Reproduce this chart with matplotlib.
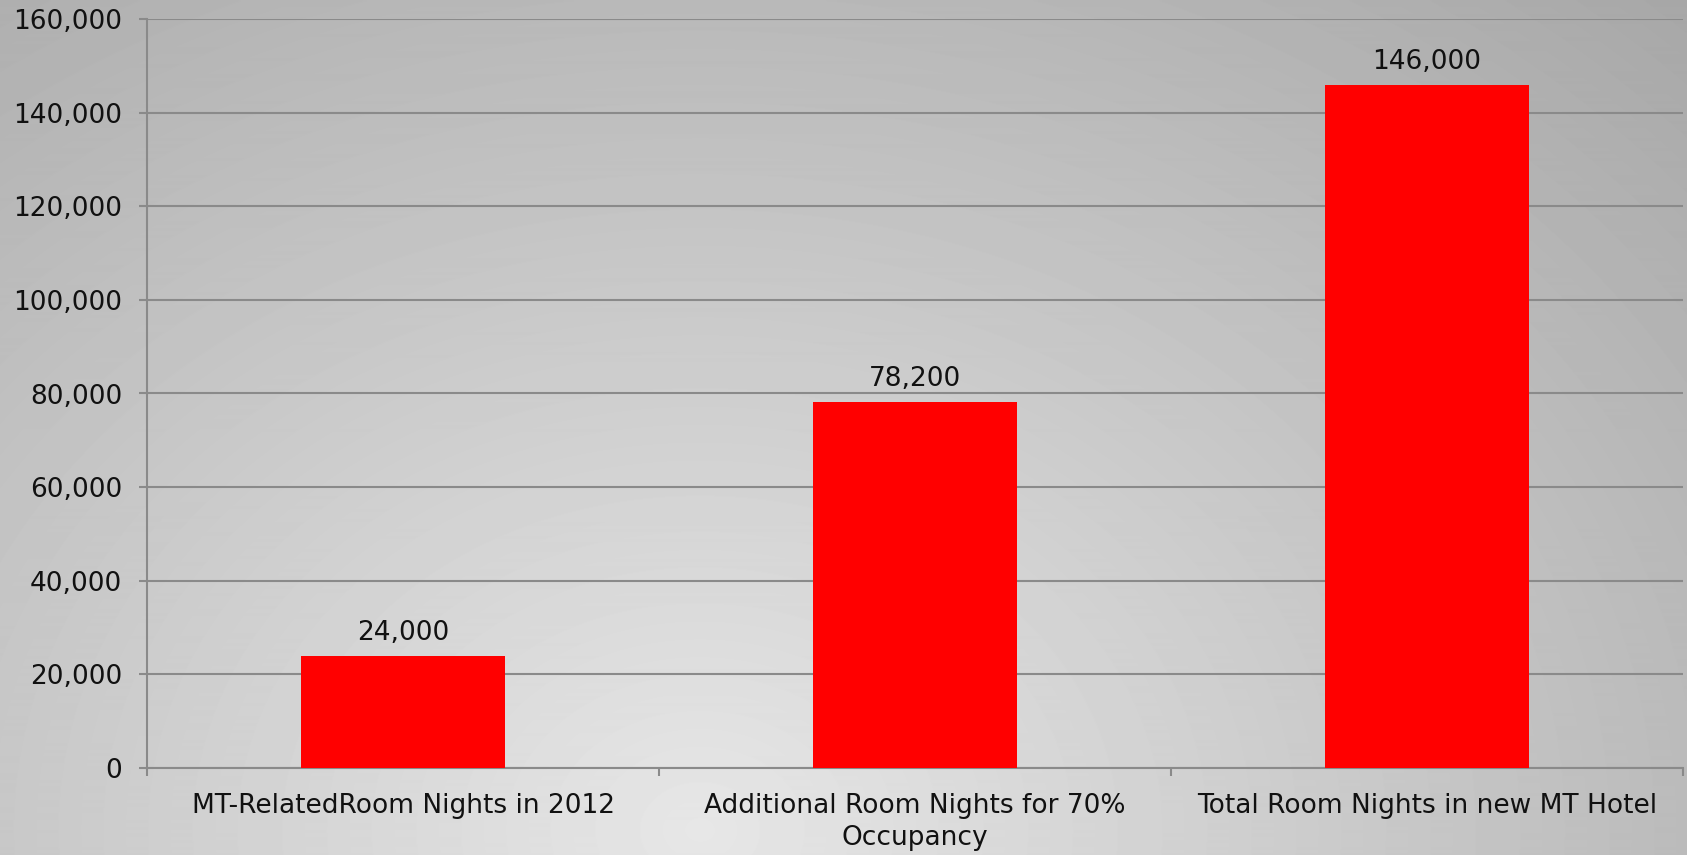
import numpy as np
import matplotlib
matplotlib.use("Agg")
import matplotlib.pyplot as plt
from matplotlib.ticker import FuncFormatter, FixedLocator

# data
categories = ["MT-RelatedRoom Nights in 2012",
              "Additional Room Nights for 70%\nOccupancy",
              "Total Room Nights in new MT Hotel"]
values = [24000, 78200, 146000]
y_ticks = np.arange(0, 160001, 20000)

plt.rcParams['font.family'] = ['DejaVu Sans']

W, H = 1687, 855
fig = plt.figure(figsize=(W / 100, H / 100), dpi=100)

# radial grey background, lighter towards the lower middle-left
bg = fig.add_axes([0, 0, 1, 1], zorder=-10)
yy, xx = np.mgrid[0:H, 0:W]
cx, cy = 700, 830
r = np.sqrt(((xx - cx) / 1.25) ** 2 + (yy - cy) ** 2)
r = r / r.max()
shade = 0.905 - 0.25 * r
bg.imshow(shade, cmap='gray', vmin=0, vmax=1, aspect='auto',
          extent=[0, 1, 0, 1], origin='upper')
bg.axis('off')

ax = fig.add_axes([147 / W, 1 - 768 / H, (1683 - 147) / W, (768 - 19) / H])
ax.patch.set_alpha(0)

x = np.arange(len(categories))
ax.bar(x, values, width=0.4, color='#ff0000', zorder=3)

for xi, v in zip(x, values):
    ax.annotate(f"{v:,}", (xi, v), xytext=(0, 7), textcoords='offset points',
                ha='center', va='bottom', fontsize=19, color='#111111')

ax.set_xlim(-0.5, len(categories) - 0.5)
ax.set_ylim(0, 160000)
ax.set_yticks(y_ticks)
ax.yaxis.set_major_formatter(FuncFormatter(lambda v, p: f"{int(v):,}"))
ax.grid(axis='y', color='#8a8a8a', linewidth=1.5, zorder=0)

ax.set_xticks(x)
ax.set_xticklabels(categories, fontsize=19, color='#111111', linespacing=1.3)
ax.xaxis.set_minor_locator(FixedLocator(np.arange(-0.5, len(categories), 1.0)))
ax.tick_params(axis='x', which='major', length=0, pad=18)
ax.tick_params(axis='x', which='minor', length=6, width=1.5, color='#8a8a8a')
ax.tick_params(axis='y', length=6, width=1.5, color='#8a8a8a',
               labelsize=19, labelcolor='#111111', pad=12)

for s in ['top', 'right']:
    ax.spines[s].set_visible(False)
for s in ['left', 'bottom']:
    ax.spines[s].set_color('#8a8a8a')
    ax.spines[s].set_linewidth(1.5)

fig.savefig("out.png", dpi=100)
